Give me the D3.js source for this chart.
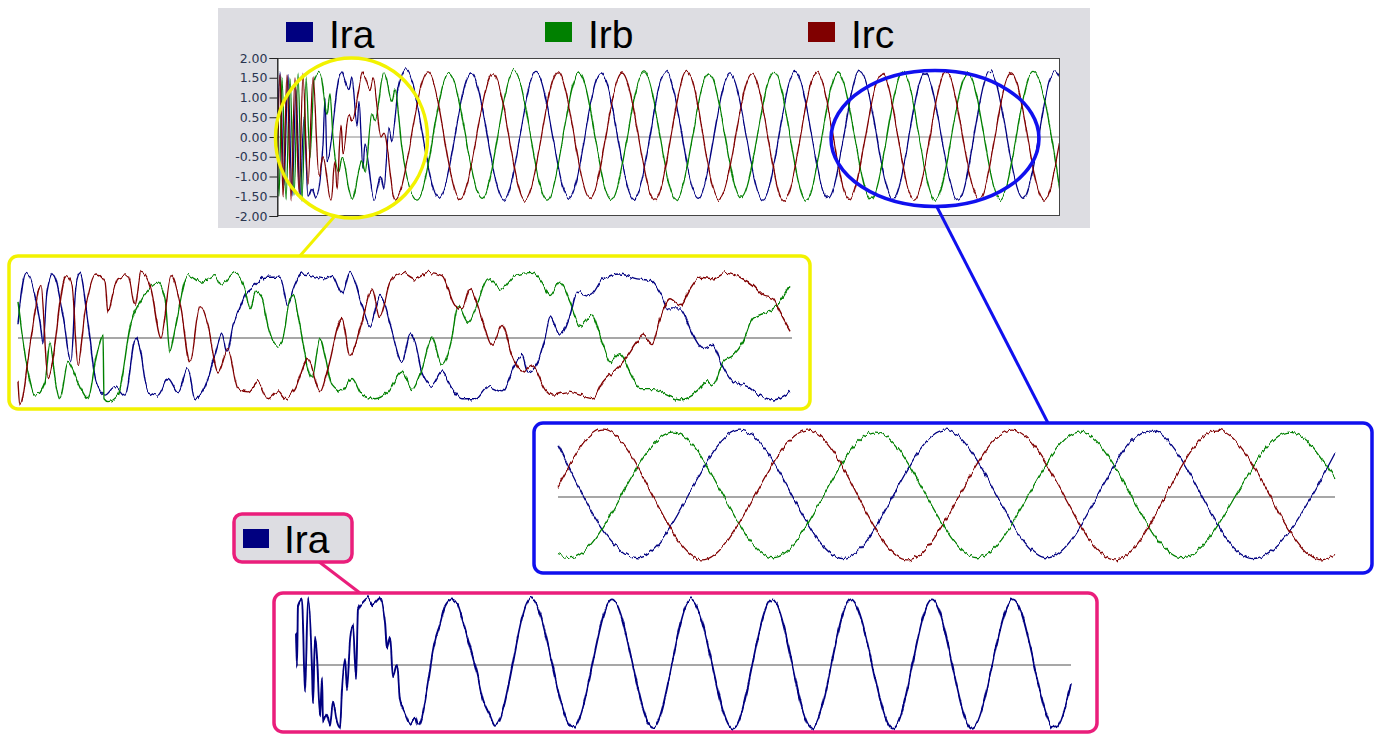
<!DOCTYPE html>
<html><head><meta charset="utf-8">
<script src="https://cdn.jsdelivr.net/npm/d3@7"></script>
<style>body{margin:0;background:#fff;} svg{display:block;}</style>
</head><body>
<svg id="c" width="1379" height="735"></svg>
<script>
// ---------------- data ----------------
const seriesNames = ["Ira", "Irb", "Irc"];
const yTicks = [2, 1.5, 1, 0.5, 0, -0.5, -1, -1.5, -2];

// Main chart, [sample, value] turning points
const mainIra = [[0,-0.3],[3,1.65],[7,-1.2],[11,1.6],[15,-1.5],[19,1.2],[23,-1.55],[27,0.5],[31,-1.5],[35,-1.3],[39,-1.55],[46,-0.2],[48,1.0],[50,-0.6],[64,1.65],[72,1.2],[75,1.5],[80,0.3],[82,0.9],[86,-0.8],[88,-0.2],[97,-1.58],[104,-1.0],[107,-1.3],[112,0.2],[115,-0.1],[121,1.2],[129,1.7],[162,-1.55],[194,1.62],[227,-1.6],[259,1.66],[292,-1.55],[324,1.62],[357,-1.58],[389,1.65],[421,-1.55],[453,1.6],[486,-1.6],[518,1.66],[551,-1.55],[583,1.68],[616,-1.58],[648,1.62],[681,-1.6],[713,1.66],[746,-1.55],[778,1.68],[783,1.5]];
const mainIrb = [[0,0.3],[2,-1.5],[5,1.5],[9,-1.6],[13,1.5],[17,-1.5],[21,1.6],[25,-1.6],[29,1.5],[33,-0.5],[37,1.4],[43,1.65],[50,0.6],[53,1.1],[56,0.0],[62,-0.9],[65,-0.5],[75,-1.58],[85,-0.6],[88,-0.9],[95,0.6],[98,0.4],[107,1.65],[115,0.9],[118,1.2],[125,-0.3],[140,-1.6],[172,1.62],[205,-1.55],[237,1.68],[270,-1.6],[302,1.62],[334,-1.58],[367,1.65],[399,-1.6],[432,1.62],[464,-1.55],[497,1.66],[529,-1.6],[561,1.62],[594,-1.58],[626,1.65],[658,-1.6],[691,1.62],[723,-1.58],[756,1.66],[783,-1.35]];
const mainIrc = [[0,-1.75],[3,1.6],[6,-1.5],[10,1.6],[14,-1.6],[18,1.5],[22,-1.4],[26,1.6],[31,-1.2],[36,1.5],[42,-1.0],[46,-0.5],[54,-1.6],[58,-0.6],[60,-1.3],[64,0.3],[66,-0.4],[72,0.6],[75,0.4],[86,1.62],[93,1.2],[96,1.5],[104,0.0],[107,0.1],[118,-1.6],[151,1.65],[183,-1.58],[216,1.6],[248,-1.6],[281,1.65],[313,-1.55],[345,1.62],[378,-1.6],[410,1.66],[442,-1.58],[475,1.6],[507,-1.62],[540,1.65],[572,-1.58],[605,1.62],[637,-1.6],[669,1.66],[702,-1.58],[734,1.62],[767,-1.6],[783,-0.1]];

// Yellow zoom (start-up transient)
const startIra = [[0,0.39],[8,1.62],[22,0.39],[25,-0.1],[29,1.13],[35,1.58],[45,0.56],[53,-0.59],[58,1.3],[62,1.58],[70,0.39],[78,-1.08],[87,-1.41],[97,-1.2],[107,-1.41],[118,0.0],[122,-0.26],[130,-1.33],[140,-1.41],[150,-1.0],[160,-1.33],[170,-0.75],[177,-1.5],[187,-1.2],[197,-0.4],[204,0.1],[209,-0.35],[215,0.3],[222,0.75],[228,1.1],[237,1.3],[247,1.5],[262,1.5],[270,0.8],[275,1.2],[284,1.58],[307,1.46],[314,1.55],[324,1.09],[332,1.62],[344,0.8],[352,0.31],[362,1.05],[367,0.8],[374,0.15],[384,-0.59],[392,0.1],[397,-0.1],[404,-0.84],[414,-1.17],[424,-0.84],[434,-1.25],[444,-1.5],[457,-1.5],[470,-1.2],[484,-1.33],[497,-0.67],[504,-0.43],[510,-0.84],[520,-0.59],[527,0.0],[532,0.52],[542,0.07],[552,0.56],[559,1.13],[572,1.05],[585,1.46],[602,1.58],[619,1.46],[632,1.42],[642,1.13],[650,0.72],[662,0.72],[675,0.07],[685,-0.26],[695,-0.18],[704,-0.67],[715,-1.08],[729,-1.17],[742,-1.41],[755,-1.53],[772,-1.33]];
const startIrb = [[0,0.89],[10,-0.84],[17,-1.41],[27,-1.08],[32,-0.1],[37,-1.0],[42,-1.5],[50,-0.6],[54,-0.75],[62,-1.2],[70,-1.5],[78,-0.5],[85,0.07],[86,-1.5],[90,-1.57],[100,-1.41],[113,0.39],[122,0.9],[130,1.2],[140,1.38],[147,0.97],[152,-0.34],[157,0.23],[170,1.54],[183,1.38],[197,1.54],[203,1.3],[217,1.62],[227,1.2],[232,0.72],[238,1.13],[244,1.0],[250,0.3],[259,-0.2],[264,-0.1],[272,0.97],[275,1.05],[284,0.0],[289,-0.67],[294,-1.0],[302,0.0],[307,-0.43],[314,-1.17],[324,-1.33],[334,-1.0],[344,-1.41],[357,-1.5],[370,-1.33],[384,-0.84],[394,-1.25],[404,-0.75],[414,0.0],[424,-0.67],[434,0.0],[440,0.8],[450,0.39],[460,0.89],[470,1.46],[484,1.21],[497,1.54],[514,1.62],[524,1.38],[532,1.05],[542,1.38],[552,0.89],[562,0.31],[574,0.56],[585,-0.18],[592,-0.59],[602,-0.39],[612,-0.84],[622,-1.25],[635,-1.25],[649,-1.41],[662,-1.53],[679,-1.33],[689,-1.08],[695,-1.17],[705,-0.59],[715,-0.43],[725,-0.1],[735,0.48],[749,0.64],[759,0.8],[772,1.3]];
const startIrc = [[0,-1.08],[2,-1.66],[13,0.0],[23,1.3],[30,-1.0],[48,1.54],[54,1.3],[60,-0.67],[67,0.64],[78,1.58],[87,1.38],[90,0.64],[95,1.1],[100,1.46],[110,1.54],[117,0.8],[123,1.62],[133,1.21],[143,0.0],[153,1.54],[163,0.72],[172,-0.59],[182,0.8],[190,0.31],[200,-0.84],[210,-0.26],[220,-1.25],[230,-1.33],[240,-1.08],[250,-1.5],[260,-1.33],[267,-1.5],[277,-1.25],[290,-0.51],[295,-0.84],[302,-1.33],[310,-0.75],[324,0.48],[332,-0.43],[344,0.39],[354,1.21],[362,0.52],[372,1.38],[384,1.62],[397,1.46],[410,1.62],[424,1.54],[437,0.8],[444,0.72],[452,1.21],[464,0.48],[474,-0.18],[484,0.31],[494,-0.43],[504,-0.84],[514,-0.67],[527,-1.25],[535,-1.41],[549,-1.33],[562,-1.41],[575,-1.5],[585,-1.08],[595,-0.84],[608,-0.5],[619,-0.1],[625,0.07],[634,-0.14],[642,0.48],[652,0.97],[662,0.8],[672,1.21],[682,1.5],[695,1.46],[709,1.62],[722,1.5],[735,1.3],[745,1.05],[755,0.97],[762,0.64],[772,0.19]];

// Blue zoom (steady state)
const steadyIra = [[0,1.29],[80,-1.5],[182,1.65],[285,-1.52],[387,1.65],[489,-1.5],[592,1.65],[694,-1.52],[777,1.08]];
const steadyIrb = [[0,-1.42],[12,-1.5],[115,1.6],[215,-1.5],[317,1.6],[419,-1.5],[522,1.6],[624,-1.5],[732,1.6],[777,0.47]];
const steadyIrc = [[0,0.26],[45,1.65],[144,-1.55],[250,1.65],[349,-1.55],[454,1.65],[557,-1.55],[659,1.65],[764,-1.55],[777,-1.42]];

// Pink detail (Ira only)
const detailIra = [[0,0.8],[1,-0.05],[2,1.47],[6,1.62],[7,1.0],[9,-0.7],[12,1.65],[16,-0.1],[17,-0.96],[19,0.7],[21,0.2],[24,-1.25],[26,-0.3],[27,-1.4],[31,-1.2],[34,-1.5],[37,-0.9],[41,-1.4],[44,-1.55],[46,-0.6],[49,0.15],[51,-0.6],[54,0.6],[57,1.0],[60,-0.35],[62,1.35],[67,1.55],[72,1.65],[77,1.5],[84,1.65],[89,1.05],[91,0.4],[94,0.7],[97,-0.3],[101,0.0],[104,-0.85],[109,-1.2],[114,-1.45],[119,-1.3],[122,-1.5],[126,-1.3],[131,-0.6],[136,0.2],[139,0.6],[144,1.0],[149,1.45],[156,1.62],[162,1.45],[167,1.05],[174,0.45],[181,-0.2],[187,-0.85],[194,-1.25],[199,-1.5],[235,1.65],[277,-1.55],[316,1.62],[357,-1.55],[395,1.62],[437,-1.57],[476,1.62],[516,-1.55],[555,1.62],[597,-1.57],[636,1.62],[676,-1.55],[717,1.62],[759,-1.57],[775,-0.45]];

// ---------------- styles ----------------
const colors = {Ira: "#000080", Irb: "#008000", Irc: "#800000"};
const fmt = d3.formatLocale({decimal: ".", thousands: ",", grouping: [3], currency: ["", ""], minus: "-"}).format(".2f");

const svg = d3.select("#c");
const defs = svg.append("defs");
const filt = defs.append("filter").attr("id", "jag").attr("filterUnits", "userSpaceOnUse")
  .attr("x", 0).attr("y", 0).attr("width", 1379).attr("height", 735);
filt.append("feTurbulence").attr("type", "fractalNoise").attr("baseFrequency", "0.3 0.05")
  .attr("numOctaves", 2).attr("seed", 11).attr("result", "n");
filt.append("feColorMatrix").attr("in", "n").attr("type", "matrix")
  .attr("values", "0 0 0 0 0.5  0 1 0 0 0  0 0 1 0 0  0 0 0 0 1").attr("result", "ny");
filt.append("feDisplacementMap").attr("in", "SourceGraphic").attr("in2", "ny").attr("scale", 7)
  .attr("xChannelSelector", "R").attr("yChannelSelector", "G");

function drawWaves(g, xs, ys, list, width) {
  const line = d3.line().x(d => xs(d[0])).y(d => ys(d[1])).curve(d3.curveMonotoneX);
  const wg = g.append("g").attr("filter", "url(#jag)");
  list.forEach(s => {
    wg.append("path").attr("d", line(s.data)).attr("fill", "none")
      .attr("stroke", colors[s.name]).attr("stroke-width", width).attr("stroke-linejoin", "round");
  });
}

// ---------------- main chart ----------------
svg.append("rect").attr("x", 218).attr("y", 8).attr("width", 872).attr("height", 220).attr("fill", "#dddde2");
const xMain = d3.scaleLinear().domain([0, 783]).range([277, 1060]);
const yMain = d3.scaleLinear().domain([-2, 2]).range([216, 58]);
svg.append("rect").attr("x", 277).attr("y", 58).attr("width", 783).attr("height", 158).attr("fill", "#fff");
defs.append("clipPath").attr("id", "clipMain").append("rect").attr("x", 277).attr("y", 58).attr("width", 783).attr("height", 158);
const gm = svg.append("g").attr("clip-path", "url(#clipMain)");
gm.append("line").attr("x1", 277).attr("x2", 1060).attr("y1", yMain(0)).attr("y2", yMain(0)).attr("stroke", "#8a8a8a").attr("stroke-width", 1);
drawWaves(gm, xMain, yMain, [
  {name: "Ira", data: mainIra}, {name: "Irb", data: mainIrb}, {name: "Irc", data: mainIrc}
], 1.3);
svg.append("rect").attr("x", 277.5).attr("y", 58.5).attr("width", 782).attr("height", 157).attr("fill", "none").attr("stroke", "#444").attr("stroke-width", 1);
const ax = svg.append("g").attr("transform", "translate(277.5,0)")
  .call(d3.axisLeft(yMain).tickValues(yTicks).tickFormat(fmt).tickSize(8).tickPadding(2));
ax.select(".domain").attr("stroke", "#222");
ax.selectAll(".tick line").attr("stroke", "#222");
ax.selectAll("text").attr("font-family", "DejaVu Sans, sans-serif").attr("font-size", 12.5).attr("fill", "#2a3550");

// legend
const legX = [286, 545, 808];
seriesNames.forEach((n, i) => {
  svg.append("rect").attr("x", legX[i]).attr("y", 22).attr("width", 27).attr("height", 20).attr("fill", colors[n]);
  svg.append("text").attr("x", legX[i] + 43).attr("y", 48).text(n)
    .attr("font-family", "Liberation Sans, Arial, sans-serif").attr("font-size", 39).attr("fill", "#000");
});

// ellipses + connectors
svg.append("ellipse").attr("cx", 351.5).attr("cy", 138).attr("rx", 76).attr("ry", 80)
  .attr("fill", "none").attr("stroke", "#f2f200").attr("stroke-width", 3.5);
svg.append("line").attr("x1", 334).attr("y1", 217).attr("x2", 299).attr("y2", 257).attr("stroke", "#f2f200").attr("stroke-width", 3);
svg.append("ellipse").attr("cx", 935).attr("cy", 138.5).attr("rx", 104).attr("ry", 68)
  .attr("fill", "none").attr("stroke", "#1010ee").attr("stroke-width", 3.5);
svg.append("line").attr("x1", 937).attr("y1", 207).attr("x2", 1048).attr("y2", 423).attr("stroke", "#1010ee").attr("stroke-width", 3);

// ---------------- zoom panels ----------------
function zoomPanel(box, stroke, plot, series, width) {
  svg.append("rect").attr("x", box[0]).attr("y", box[1]).attr("width", box[2]).attr("height", box[3])
    .attr("rx", 9).attr("fill", "#fff").attr("stroke", stroke).attr("stroke-width", 3.5);
  const xs = d3.scaleLinear().domain(plot.domain).range([plot.x0, plot.x1]);
  const ys = d3.scaleLinear().domain([-2, 2]).range([plot.zero + 81, plot.zero - 81]);
  const g = svg.append("g");
  g.append("line").attr("x1", plot.x0).attr("x2", plot.x1).attr("y1", ys(0)).attr("y2", ys(0))
    .attr("stroke", "#8a8a8a").attr("stroke-width", 1.6);
  drawWaves(g, xs, ys, series, width);
}

zoomPanel([9, 256, 801, 153], "#f2f200", {domain: [0, 774], x0: 18, x1: 792, zero: 338},
  [{name: "Ira", data: startIra}, {name: "Irb", data: startIrb}, {name: "Irc", data: startIrc}], 1.4);

zoomPanel([534, 423, 838, 150], "#1010ee", {domain: [0, 777], x0: 558, x1: 1335, zero: 497},
  [{name: "Ira", data: steadyIra}, {name: "Irb", data: steadyIrb}, {name: "Irc", data: steadyIrc}], 1.3);

// pink label + connector
svg.append("line").attr("x1", 318).attr("y1", 561).attr("x2", 360).attr("y2", 593).attr("stroke", "#ea1e7b").attr("stroke-width", 3);
svg.append("rect").attr("x", 234).attr("y", 514).attr("width", 118).attr("height", 48).attr("rx", 8)
  .attr("fill", "#dddde2").attr("stroke", "#ea1e7b").attr("stroke-width", 3.5);
svg.append("rect").attr("x", 243).attr("y", 529).attr("width", 26).attr("height", 19).attr("fill", colors.Ira);
svg.append("text").attr("x", 284).attr("y", 553).text(seriesNames[0])
  .attr("font-family", "Liberation Sans, Arial, sans-serif").attr("font-size", 39).attr("fill", "#000");

zoomPanel([274, 593, 823, 139], "#ea1e7b", {domain: [0, 775], x0: 296, x1: 1071, zero: 665},
  [{name: "Ira", data: detailIra}], 1.9);
</script>
</body></html>
